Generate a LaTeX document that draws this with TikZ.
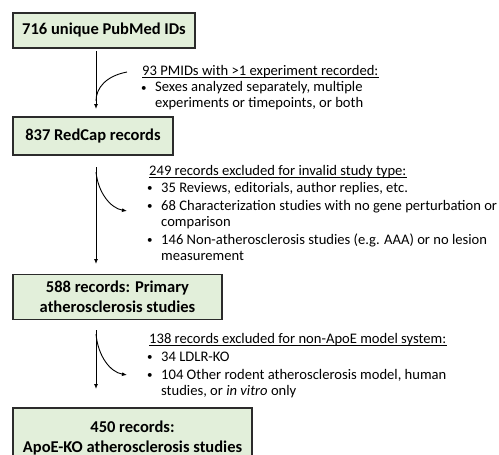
\documentclass[tikz,border=0pt]{standalone}
\usepackage{fontspec}
\setmainfont{Carlito}
\usetikzlibrary{arrows.meta}
\definecolor{boxfill}{HTML}{E2EFDA}
\definecolor{boxline}{HTML}{2B2B2B}
\newcommand{\bul}{\llap{\raisebox{1pt}{\fontsize{11}{11}\selectfont\textbullet}\hspace{8.5pt}}}
\begin{document}
\begin{tikzpicture}[x=1pt,y=-1pt,
  box/.style={draw=boxline,line width=1.3pt,fill=boxfill,inner sep=0pt,
    align=center,font=\fontsize{16.5}{20}\selectfont\bfseries},
  txt/.style={anchor=base west,inner sep=0pt,font=\fontsize{14.6}{17}\selectfont},
  uline/.style={line width=0.8pt},
  arr/.style={line width=0.9pt,-{Latex[length=5pt,width=4pt]}},
  crv/.style={line width=0.9pt}]
\useasboundingbox (0,0) rectangle (499,455);
% boxes
\node[box,minimum width=182pt,minimum height=35pt] (b1) at (104,30.5) {716 unique PubMed IDs};
\node[box,minimum width=160pt,minimum height=38pt] (b2) at (93,136) {837 RedCap records};
\node[box,minimum width=209pt,minimum height=45pt] (b3) at (117.5,297) {588 records: Primary\\atherosclerosis studies};
\node[box,minimum width=239pt,minimum height=60pt] (b4) at (132.5,438) {450 records:\\ApoE-KO atherosclerosis studies};
% arrow 1
\coordinate (a1s) at (96,51);
\coordinate (a1e) at (96,109);
\coordinate (c1s) at (127,72);
\coordinate (c1e) at (96,101);
\draw[arr] (a1s) -- (a1e);
\draw[crv] (c1s) .. controls (106,76) and (96,88) .. (c1e);
% text 1
\node[txt] (t1h) at (142,75) {93 PMIDs with >1 experiment recorded:};
\draw[uline] ([yshift=-2pt]t1h.base west) -- ([yshift=-2pt]t1h.base east);
\node[txt] (t1a) at (155,92) {\bul Sexes analyzed separately, multiple};
\node[txt] (t1b) at (155,107) {experiments or timepoints, or both};
% arrow 2
\coordinate (a2s) at (96,167);
\coordinate (a2e) at (96,264);
\coordinate (c2s) at (96,172);
\coordinate (c2e) at (127,211);
\draw[arr] (a2s) -- (a2e);
\draw[arr] (c2s) .. controls (98,192) and (110,208) .. (c2e);
% text 2
\node[txt] (t2h) at (149,175) {249 records excluded for invalid study type:};
\draw[uline] ([yshift=-2pt]t2h.base west) -- ([yshift=-2pt]t2h.base east);
\node[txt] (t2a) at (161,192) {\bul 35 Reviews, editorials, author replies, etc.};
\node[txt] (t2b) at (161,210) {\bul 68 Characterization studies with no gene perturbation or};
\node[txt] (t2c) at (161,226) {comparison};
\node[txt] (t2d) at (161,244) {\bul 146 Non-atherosclerosis studies (e.g. AAA) or no lesion};
\node[txt] (t2e) at (161,260) {measurement};
% arrow 3
\coordinate (a3s) at (96,330);
\coordinate (a3e) at (96,389);
\coordinate (c3s) at (96,334);
\coordinate (c3e) at (127,375);
\draw[arr] (a3s) -- (a3e);
\draw[arr] (c3s) .. controls (98,356) and (110,372) .. (c3e);
% text 3
\node[txt] (t3h) at (149,343) {138 records excluded for non-ApoE model system:};
\draw[uline] ([yshift=-2pt]t3h.base west) -- ([yshift=-2pt]t3h.base east);
\node[txt] (t3a) at (161,361) {\bul 34 LDLR-KO};
\node[txt] (t3b) at (161,379) {\bul 104 Other rodent atherosclerosis model, human};
\node[txt] (t3c) at (161,395) {studies, or \textit{in vitro} only};
\end{tikzpicture}
\end{document}
